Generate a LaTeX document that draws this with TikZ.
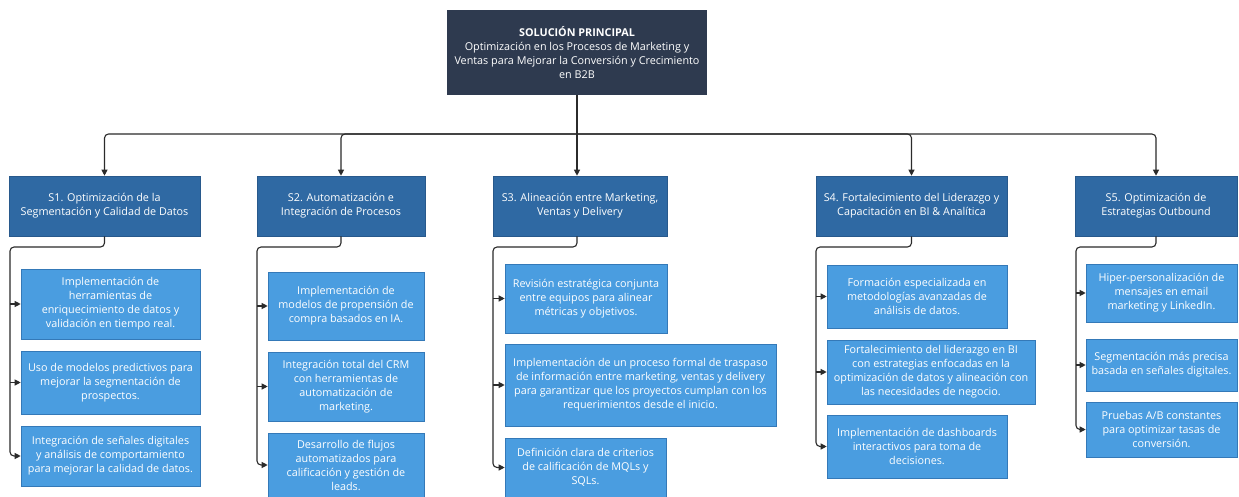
\documentclass[tikz,border=0pt]{standalone}
\usepackage{fontspec}
\setmainfont{Open Sans}
\usetikzlibrary{arrows.meta}

\definecolor{topfill}{HTML}{2E3A4F}
\definecolor{secfill}{HTML}{2F69A3}
\definecolor{secline}{HTML}{28598C}
\definecolor{kidfill}{HTML}{4A9DE0}
\definecolor{kidline}{HTML}{3479B8}
\definecolor{wirecol}{HTML}{2B2B2B}

\tikzset{
  base/.style={rectangle, inner sep=0pt, text=white, align=center,
    font=\fontsize{10.8}{14}\selectfont},
  topbox/.style={base, fill=topfill},
  secbox/.style={base, fill=secfill, draw=secline, line width=0.6pt},
  kidbox/.style={base, fill=kidfill, draw=kidline, line width=0.6pt},
  wire/.style={draw=wirecol, line width=1.1pt, rounded corners=4pt},
  arr/.style={wire, -{Triangle[length=6pt,width=6pt]}},
}

% box from its corners: style, name, x1, y1, x2, y2, text
\newcommand\rectnode[7]{%
  \node[#1, minimum width={#5-#3}, minimum height={#6-#4}] (#2)
    at ({(#3+#5)/2},{(#4+#6)/2}) {#7};}

\begin{document}
\begin{tikzpicture}[x=1pt,y=-1pt]
\useasboundingbox[fill=white] (0,0) rectangle (1239,497);

% main solution
\rectnode{topbox}{top}{447}{10}{707}{95}{\textbf{SOLUCIÓN PRINCIPAL}\\Optimización en los Procesos de Marketing y\\Ventas para Mejorar la Conversión y Crecimiento\\en B2B}

% strategy boxes
\rectnode{secbox}{s1}{9}{176}{200}{236}{S1. Optimización de la\\Segmentación y Calidad de Datos}
\rectnode{secbox}{s2}{257}{176}{425}{236}{S2. Automatización e\\Integración de Procesos}
\rectnode{secbox}{s3}{493}{176}{667}{236}{S3. Alineación entre Marketing,\\Ventas y Delivery}
\rectnode{secbox}{s4}{816}{176}{1007}{236}{S4. Fortalecimiento del Liderazgo y\\Capacitación en BI \& Analítica}
\rectnode{secbox}{s5}{1075}{176}{1237}{236}{S5. Optimización de\\Estrategias Outbound}

% S1 actions
\rectnode{kidbox}{c11}{21}{269}{200}{339}{Implementación de\\herramientas de\\enriquecimiento de datos y\\validación en tiempo real.}
\rectnode{kidbox}{c12}{21}{351}{200}{414}{Uso de modelos predictivos para\\mejorar la segmentación de\\prospectos.}
\rectnode{kidbox}{c13}{21}{426}{200}{486}{Integración de señales digitales\\y análisis de comportamiento\\para mejorar la calidad de datos.}

% S2 actions
\rectnode{kidbox}{c21}{268}{272}{424}{340}{Implementación de\\modelos de propensión de\\compra basados en IA.}
\rectnode{kidbox}{c22}{268}{352}{424}{421}{Integración total del CRM\\con herramientas de\\automatización de\\marketing.}
\rectnode{kidbox}{c23}{268}{433}{424}{497}{Desarrollo de flujos\\automatizados para\\calificación y gestión de\\leads.}

% S3 actions
\rectnode{kidbox}{c31}{505}{264}{667}{333}{Revisión estratégica conjunta\\entre equipos para alinear\\métricas y objetivos.}
\rectnode{kidbox}{c32}{505}{344}{776}{426}{Implementación de un proceso formal de traspaso\\de información entre marketing, ventas y delivery\\para garantizar que los proyectos cumplan con los\\requerimientos desde el inicio.}
\rectnode{kidbox}{c33}{505}{438}{666}{497}{Definición clara de criterios\\de calificación de MQLs y\\SQLs.}

% S4 actions
\rectnode{kidbox}{c41}{827}{265}{1007}{328}{Formación especializada en\\metodologías avanzadas de\\análisis de datos.}
\rectnode{kidbox}{c42}{827}{340}{1035}{404}{Fortalecimiento del liderazgo en BI\\con estrategias enfocadas en la\\optimización de datos y alineación con\\las necesidades de negocio.}
\rectnode{kidbox}{c43}{827}{415}{1007}{478}{Implementación de dashboards\\interactivos para toma de\\decisiones.}

% S5 actions
\rectnode{kidbox}{c51}{1086}{264}{1237}{322}{Hiper-personalización de\\mensajes en email\\marketing y LinkedIn.}
\rectnode{kidbox}{c52}{1086}{339}{1237}{391}{Segmentación más precisa\\basada en señales digitales.}
\rectnode{kidbox}{c53}{1086}{402}{1237}{457}{Pruebas A/B constantes\\para optimizar tasas de\\conversión.}

% top-level bus
\coordinate (bus) at (577,134);
\draw[wire] (top.south) -- (bus);
\draw[arr] (bus) -| (s1.north);
\draw[arr] (bus) -| (s2.north);
\draw[arr] (bus) -- (bus |- s3.north);
\draw[arr] (bus) -| (s4.north);
\draw[arr] (bus) -| (s5.north);

% branches to the actions
\coordinate (t1) at (10,247);
\coordinate (t2) at (257,247);
\coordinate (t3) at (493,247);
\coordinate (t4) at (816,247);
\coordinate (t5) at (1076,247);

\draw[arr] (s1.south) |- (t1) |- (c13.west);
\draw[arr] (t1 |- c11.west) -- (c11.west);
\draw[arr] (t1 |- c12.west) -- (c12.west);

\draw[arr] (s2.south) |- (t2) |- (c23.west);
\draw[arr] (t2 |- c21.west) -- (c21.west);
\draw[arr] (t2 |- c22.west) -- (c22.west);

\draw[arr] ([xshift=-3pt]s3.south) |- (t3) |- (c33.west);
\draw[arr] (t3 |- c31.west) -- (c31.west);
\draw[arr] (t3 |- c32.west) -- (c32.west);

\draw[arr] (s4.south) |- (t4) |- (c43.west);
\draw[arr] (t4 |- c41.west) -- (c41.west);
\draw[arr] (t4 |- c42.west) -- (c42.west);

\draw[arr] (s5.south) |- (t5) |- (c53.west);
\draw[arr] (t5 |- c51.west) -- (c51.west);
\draw[arr] (t5 |- c52.west) -- (c52.west);
\end{tikzpicture}
\end{document}
